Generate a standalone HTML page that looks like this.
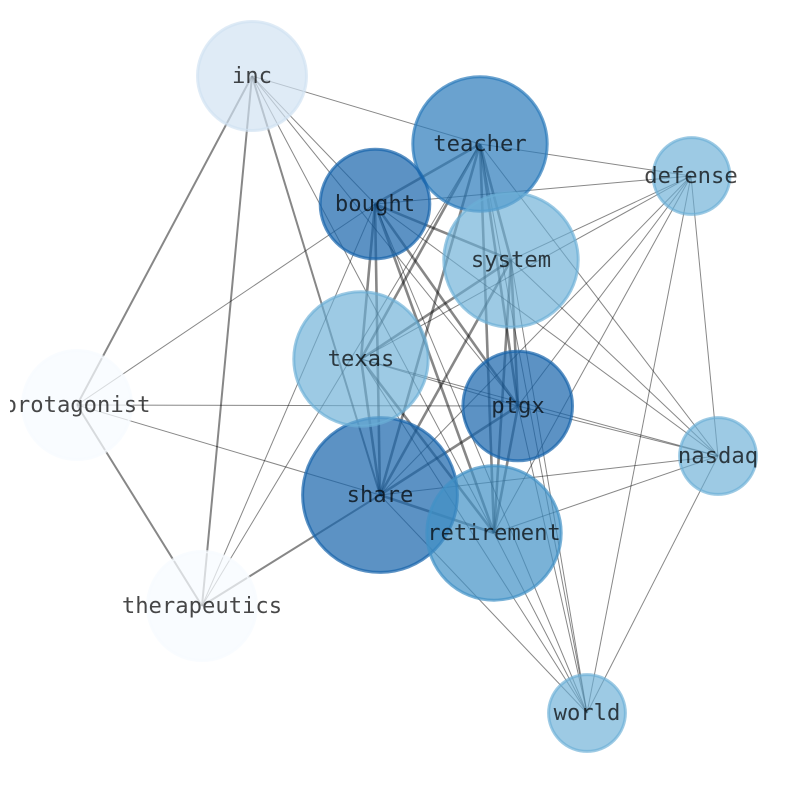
<!DOCTYPE html>
<html><head><meta charset="utf-8"><title>Network</title>
<style>
html,body{margin:0;padding:0;background:#fff}
svg{display:block}
.a line{stroke:#000;stroke-opacity:.47;stroke-width:2.6}
.b line{stroke:#000;stroke-opacity:.47;stroke-width:2}
.c line{stroke:#000;stroke-opacity:.47;stroke-width:1}
text{font-family:"DejaVu Sans Mono","Liberation Mono",monospace;font-size:22.2px;fill:#000;fill-opacity:.72;text-anchor:middle}
</style></head><body>
<svg width="794" height="790" viewBox="0 0 794 790" xmlns="http://www.w3.org/2000/svg">
<defs><clipPath id="k"><rect x="10" y="10" width="774" height="770"/></clipPath></defs>
<g class="c">
<line x1="691" y1="176" x2="480" y2="144"/><line x1="691" y1="176" x2="375" y2="204"/><line x1="691" y1="176" x2="511" y2="260"/><line x1="691" y1="176" x2="361" y2="359"/><line x1="691" y1="176" x2="518" y2="406"/><line x1="691" y1="176" x2="380" y2="495"/><line x1="691" y1="176" x2="494" y2="533"/>
<line x1="718" y1="456" x2="480" y2="144"/><line x1="718" y1="456" x2="375" y2="204"/><line x1="718" y1="456" x2="511" y2="260"/><line x1="718" y1="456" x2="361" y2="359"/><line x1="718" y1="456" x2="518" y2="406"/><line x1="718" y1="456" x2="380" y2="495"/><line x1="718" y1="456" x2="494" y2="533"/>
<line x1="587" y1="713" x2="480" y2="144"/><line x1="587" y1="713" x2="375" y2="204"/><line x1="587" y1="713" x2="511" y2="260"/><line x1="587" y1="713" x2="361" y2="359"/><line x1="587" y1="713" x2="518" y2="406"/><line x1="587" y1="713" x2="380" y2="495"/><line x1="587" y1="713" x2="494" y2="533"/>
<line x1="691" y1="176" x2="718" y2="456"/><line x1="691" y1="176" x2="587" y2="713"/><line x1="718" y1="456" x2="587" y2="713"/>
<line x1="252" y1="76" x2="375" y2="204"/><line x1="252" y1="76" x2="518" y2="406"/><line x1="252" y1="76" x2="480" y2="144"/><line x1="252" y1="76" x2="494" y2="533"/>
<line x1="77" y1="405" x2="375" y2="204"/><line x1="77" y1="405" x2="518" y2="406"/><line x1="77" y1="405" x2="380" y2="495"/>
<line x1="202" y1="606" x2="375" y2="204"/><line x1="202" y1="606" x2="480" y2="144"/>
<line x1="361" y1="359" x2="518" y2="406"/>
</g>
<g class="b">
<line x1="252" y1="76" x2="77" y2="405"/><line x1="252" y1="76" x2="202" y2="606"/><line x1="252" y1="76" x2="380" y2="495"/>
<line x1="77" y1="405" x2="202" y2="606"/><line x1="202" y1="606" x2="380" y2="495"/>
</g>
<g class="a">
<line x1="480" y1="144" x2="375" y2="204"/><line x1="480" y1="144" x2="511" y2="260"/><line x1="480" y1="144" x2="361" y2="359"/><line x1="480" y1="144" x2="518" y2="406"/><line x1="480" y1="144" x2="380" y2="495"/><line x1="480" y1="144" x2="494" y2="533"/>
<line x1="375" y1="204" x2="511" y2="260"/><line x1="375" y1="204" x2="361" y2="359"/><line x1="375" y1="204" x2="518" y2="406"/><line x1="375" y1="204" x2="380" y2="495"/><line x1="375" y1="204" x2="494" y2="533"/>
<line x1="511" y1="260" x2="361" y2="359"/><line x1="511" y1="260" x2="518" y2="406"/><line x1="511" y1="260" x2="380" y2="495"/><line x1="511" y1="260" x2="494" y2="533"/>
<line x1="361" y1="359" x2="380" y2="495"/><line x1="361" y1="359" x2="494" y2="533"/>
<line x1="518" y1="406" x2="380" y2="495"/><line x1="518" y1="406" x2="494" y2="533"/>
<line x1="380" y1="495" x2="494" y2="533"/>
</g>
<g stroke-width="3">
<circle cx="77" cy="405" r="54.5" fill="#f6fbff" stroke="#f6fbff" fill-opacity=".72" stroke-opacity=".72"/>
<circle cx="202" cy="606" r="54.5" fill="#f6fbff" stroke="#f6fbff" fill-opacity=".72" stroke-opacity=".72"/>
<circle cx="252" cy="76" r="54.5" fill="#d0e1f2" stroke="#d0e1f2" fill-opacity=".68" stroke-opacity=".68"/>
<circle cx="380" cy="495" r="77.4" fill="#1764ab" stroke="#1764ab" fill-opacity=".7" stroke-opacity=".7"/>
<circle cx="494" cy="533" r="67.2" fill="#4292c6" stroke="#4292c6" fill-opacity=".7" stroke-opacity=".7"/>
<circle cx="480" cy="144" r="67.2" fill="#2b7bba" stroke="#2b7bba" fill-opacity=".7" stroke-opacity=".7"/>
<circle cx="375" cy="204" r="54.8" fill="#1764ab" stroke="#1764ab" fill-opacity=".7" stroke-opacity=".7"/>
<circle cx="511" cy="260" r="67.2" fill="#6aaed6" stroke="#6aaed6" fill-opacity=".66" stroke-opacity=".66"/>
<circle cx="361" cy="359" r="67.2" fill="#6aaed6" stroke="#6aaed6" fill-opacity=".66" stroke-opacity=".66"/>
<circle cx="517.7" cy="406" r="54.8" fill="#1764ab" stroke="#1764ab" fill-opacity=".7" stroke-opacity=".7"/>
<circle cx="691.5" cy="176" r="38.4" fill="#6aaed6" stroke="#6aaed6" fill-opacity=".66" stroke-opacity=".66"/>
<circle cx="718" cy="456" r="38.4" fill="#6aaed6" stroke="#6aaed6" fill-opacity=".66" stroke-opacity=".66"/>
<circle cx="587" cy="713" r="38.4" fill="#6aaed6" stroke="#6aaed6" fill-opacity=".66" stroke-opacity=".66"/>
</g>
<g clip-path="url(#k)">
<text x="252" y="83">inc</text>
<text x="480" y="151">teacher</text>
<text x="375" y="211">bought</text>
<text x="511" y="267">system</text>
<text x="691" y="183">defense</text>
<text x="361" y="366">texas</text>
<text x="518" y="413">ptgx</text>
<text x="718" y="463">nasdaq</text>
<text x="380" y="502">share</text>
<text x="494" y="540">retirement</text>
<text x="587" y="720">world</text>
<text x="77" y="412">protagonist</text>
<text x="202" y="613">therapeutics</text>
</g>
</svg>
</body></html>
